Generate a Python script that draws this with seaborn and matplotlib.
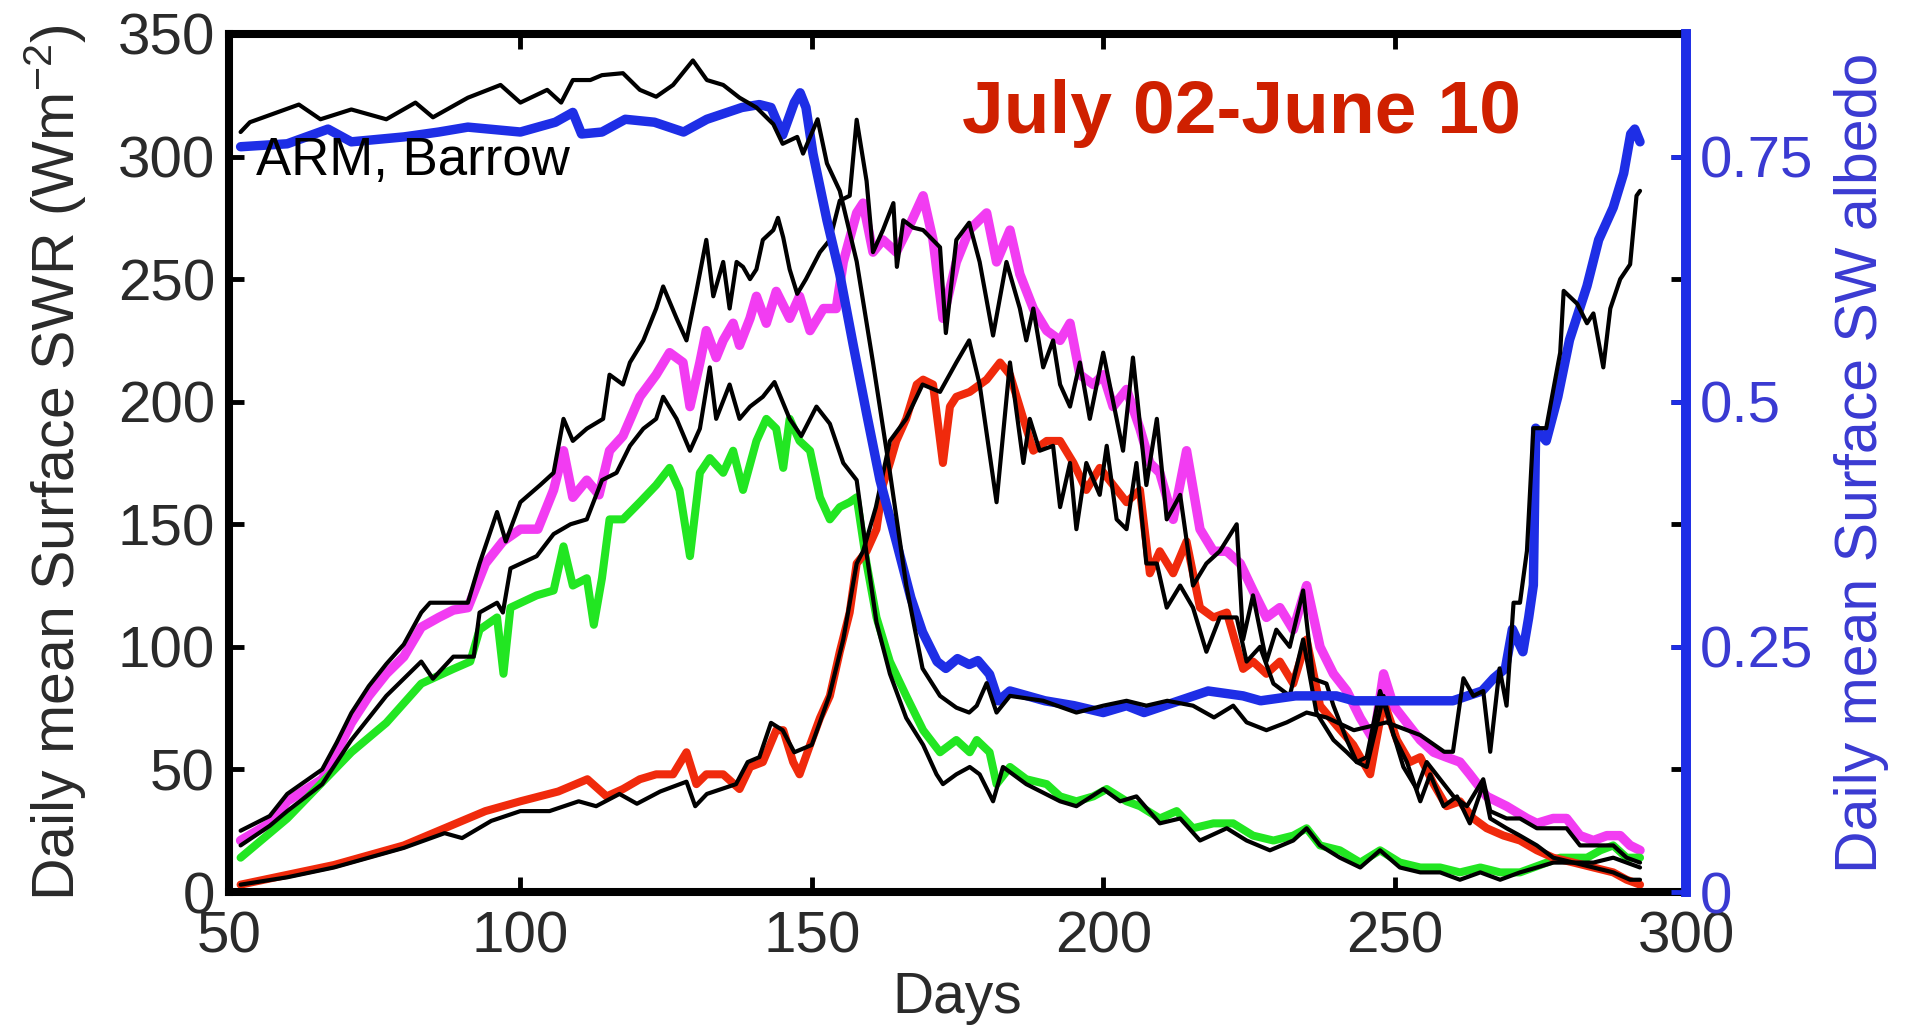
import matplotlib
matplotlib.use("Agg")
import matplotlib.pyplot as plt
import seaborn as sns

# ---------------- data ----------------
# Model downwelling SW (magenta)
DOWN_MODEL_DAY = [52, 57, 60, 66, 68.5, 71, 74, 77, 80, 83, 86, 88.5, 91, 94, 97, 100, 103, 105.7, 107.4, 109,
                  111.4, 113.5, 115.3, 117.6, 120.5, 123.3, 125.6, 127.9, 129.1, 130.8, 131.9, 133.6, 134.8, 136.5,
                  137.6, 139.4, 140.5, 142.2, 143.9, 146.2, 147.9, 149.7, 152, 154.2, 155.4, 157.7, 158.8, 160.5,
                  162.2, 164.5, 166.8, 169.1, 170.8, 172.5, 174.8, 177, 180, 181.7, 184, 185.7, 188, 190.3, 192.6,
                  194.3, 196, 198.3, 200, 201.7, 204, 206.3, 208, 209.7, 212, 214.3, 216.6, 218.9, 221.2, 223.5,
                  225.7, 228, 230.3, 232.6, 234.9, 237.2, 239.5, 241.8, 244.1, 246.4, 248.1, 249.8, 252.1, 254.4,
                  256.7, 258.9, 261.2, 262.9, 265.8, 269.2, 272.7, 274.4, 277.2, 279.5, 281.8, 284.1, 286.4, 288.7,
                  290.4, 292.1]
DOWN_MODEL = [21, 28, 37, 46, 57, 69, 80, 89, 96, 108, 112, 115, 116, 134, 143, 148, 148, 164, 180, 161,
              168, 162, 180, 186, 202, 211, 220, 216, 198, 216, 229, 218, 225, 232, 223, 234, 243, 232, 245, 234,
              243, 229, 238, 238, 257, 277, 281, 261, 266, 261, 272, 284, 266, 234, 257, 270, 277, 257, 270, 252,
              238, 229, 225, 232, 211, 207, 211, 198, 205, 189, 175, 171, 152, 180, 148, 139, 139, 134, 123, 112,
              116, 107, 125, 100, 89, 82, 71, 62, 89, 76, 69, 62, 57, 55, 53, 48, 39, 35, 30, 28,
              30, 30, 23, 21, 23, 23, 19, 17]

# Observed downwelling SW (black)
DOWN_OBS_DAY = [52, 57, 60, 66, 68.5, 71, 74, 77, 80, 83, 84.5, 88.5, 91, 93, 96, 97.5, 100, 103.4, 105.7, 107.4,
                109, 111.4, 114.2, 115.3, 117.6, 118.8, 121.1, 123.3, 124.5, 126.8, 128.5, 130.2, 131.9, 133.1,
                134.8, 135.9, 137.1, 138.2, 139.4, 140.5, 141.6, 143.4, 144.2, 145.1, 146.2, 147.5, 149, 151.4,
                153.1, 154.8, 156.5, 157.7, 159.4, 160.5, 162.2, 164, 164.6, 165.7, 167.4, 169.1, 172, 173, 174.8,
                177, 178.8, 181.1, 183.4, 185.7, 186.8, 188, 189.7, 191.4, 192.6, 194.3, 196, 197.7, 200, 202.3,
                203.4, 205.1, 207.4, 209.2, 210.9, 213.2, 215.4, 217.7, 220, 222.9, 224, 225.7, 228, 229.7, 232,
                234.3, 236, 238.3, 239.5, 241.8, 243.5, 245.2, 247.5, 249.2, 251.5, 253.8, 255.5, 257.8, 260.1,
                262.4, 265.2, 266.4, 269.2, 271.5, 274.4, 277.2, 279.5, 281.8, 284.7, 287.5, 289.8, 292.1]
DOWN_OBS = [25, 31, 40, 50, 61, 73, 84, 93, 101, 114, 118, 118, 118, 134, 155, 143, 159, 166, 171, 193,
            184, 189, 193, 211, 207, 216, 225, 238, 247, 234, 225, 245, 266, 243, 257, 238, 257, 255, 250, 254,
            266, 270, 275, 267, 254, 244, 250, 261, 266, 282, 284, 315, 290, 261, 270, 281, 255, 274, 271, 270,
            263, 228, 266, 273, 257, 227, 257, 238, 225, 238, 214, 225, 207, 198, 216, 193, 220, 193, 180, 218,
            166, 193, 152, 162, 125, 134, 139, 150, 103, 121, 94, 107, 100, 123, 87, 85, 76, 62, 53, 55,
            82, 69, 51, 42, 53, 46, 39, 35, 46, 33, 30, 30, 26, 26, 26, 19, 19, 19, 14, 12]

# Model upwelling SW (green)
UP_MODEL_DAY = [52, 60, 71, 77, 83, 88.5, 91.4, 93, 96, 97.1, 98.3, 102.8, 105.7, 107.4, 109, 111.4, 112.6, 114,
                115.3, 117.6, 120.5, 123.3, 125.6, 127.3, 129.1, 130.8, 132.5, 134.8, 136.5, 138.2, 140.5, 142.2,
                143.9, 145.1, 146.2, 147.9, 149.7, 151.4, 153.1, 154.8, 156.5, 157.7, 159.4, 161.1, 163.4, 166.2,
                169.1, 172, 174.8, 177.1, 178.3, 180.5, 181.7, 184, 186.8, 190.3, 192.6, 195.4, 198.3, 200.6, 204,
                206.3, 209.7, 212.6, 215.4, 218.9, 222.3, 225.7, 229.2, 232.6, 234.9, 237.2, 240.6, 244.1, 247.5,
                250.9, 254.4, 257.8, 261.2, 264.7, 268.1, 271.5, 273.8, 276.1, 278.4, 280.7, 283, 285.3, 287.5,
                289.8, 292.1]
UP_MODEL = [14, 30, 57, 69, 85, 91, 94, 107, 112, 89, 116, 121, 123, 141, 125, 128, 109, 128, 152, 152,
            159, 166, 173, 164, 137, 171, 177, 171, 180, 164, 184, 193, 189, 173, 193, 184, 180, 161, 152, 157,
            159, 161, 134, 112, 94, 80, 66, 57, 62, 57, 62, 57, 44, 51, 46, 44, 39, 37, 39, 42,
            37, 35, 30, 33, 26, 28, 28, 23, 21, 23, 26, 19, 17, 12, 17, 12, 10, 10, 8, 10,
            8, 8, 10, 12, 14, 14, 14, 17, 19, 14, 14]

# Observed upwelling SW (black)
UP_OBS_DAY = [52, 57, 60, 66, 71, 77, 83, 85, 88.5, 92, 93, 96, 97, 98.3, 102.8, 105.7, 108.6, 111.4, 114, 116.5,
              118.8, 121.1, 123.3, 124.5, 126.8, 129.1, 130.8, 132.5, 133.6, 135.9, 137.6, 139.4, 141.6, 143.6,
              146.2, 148.2, 150.8, 153.1, 155.4, 157.7, 159.4, 161.1, 163.4, 166.2, 169.1, 171.4, 172.5, 174.8,
              177.1, 178.8, 181.1, 182.8, 186.8, 192.6, 195.4, 200, 202.9, 205.7, 209.7, 213.2, 216.6, 221.2,
              224.6, 228.6, 232.6, 234.9, 237.2, 240.6, 244.1, 247.5, 250.9, 254.4, 257.8, 261.2, 264.7, 268.1,
              271.5, 274.4, 277.2, 280.7, 284.1, 287.5, 289.8, 292.1]
UP_OBS = [19, 27, 33, 44, 62, 80, 94, 87, 96, 96, 114, 118, 114, 132, 137, 146, 150, 152, 168, 171,
          182, 189, 193, 202, 193, 180, 189, 214, 193, 207, 193, 198, 202, 208, 193, 186, 198, 191, 175, 168,
          138, 110, 89, 71, 60, 48, 44, 48, 51, 48, 37, 51, 44, 37, 35, 42, 37, 39, 28, 30,
          21, 26, 21, 17, 21, 26, 19, 14, 10, 17, 10, 8, 8, 5, 8, 5, 8, 10, 12, 12,
          12, 14, 12, 10]

# Model net SW (red)
NET_MODEL_DAY = [52, 60, 68, 80, 87, 94, 100, 106.5, 111.5, 114.8, 117.6, 120.5, 123.3, 126.2, 128.5, 130.2,
                 131.9, 134.8, 137.6, 139.4, 141.6, 143.9, 145.1, 146.8, 147.9, 149.7, 151.4, 153.1, 154.8, 156.5,
                 157.7, 159.4, 161.1, 162.2, 163.4, 164.5, 166.2, 168, 169.1, 170.8, 172.5, 173.7, 174.8, 177.1,
                 180, 182.3, 184, 186.3, 188, 190.3, 192.6, 194.9, 197.1, 199.4, 201.7, 204, 206.3, 208, 209.7,
                 212, 214.3, 216.6, 218.9, 221.2, 224, 225.7, 228, 230.3, 232.6, 234.9, 237.2, 240, 242.9, 245.8,
                 248.1, 250.4, 252.6, 254.4, 256.7, 258.9, 261.2, 263.5, 265.8, 268.7, 271.5, 274.4, 277.2, 280.7,
                 284.1, 287.5, 289.8, 292.1]
NET_MODEL = [3, 7, 11, 19, 26, 33, 37, 41, 46, 39, 42, 46, 48, 48, 57, 44, 48, 48, 42, 51,
             53, 66, 66, 53, 48, 60, 71, 80, 98, 114, 134, 139, 148, 166, 175, 184, 193, 207, 209, 207,
             175, 198, 202, 204, 209, 216, 211, 193, 180, 184, 184, 175, 164, 173, 166, 159, 164, 130, 139, 130,
             143, 116, 112, 114, 91, 94, 89, 94, 85, 103, 76, 68, 60, 48, 78, 62, 53, 55, 44, 35,
             37, 30, 26, 23, 21, 17, 14, 12, 10, 8, 5, 3]

# Observed net SW (black)
NET_OBS_DAY = [52, 60, 68, 80, 87, 90, 95, 100, 105, 110, 113, 117, 120, 124, 128.5, 130, 132, 137, 139, 141,
               143, 145, 147, 150, 153, 155.4, 157.7, 158.8, 161, 163.4, 166.2, 169, 172, 174.8, 177, 178.8,
               181.7, 184, 186.3, 187.4, 189.1, 191.4, 192.6, 194.3, 195.4, 197.1, 199.4, 200.6, 202.3, 204,
               205.7, 207.4, 209.2, 210.9, 213.2, 215.4, 217.7, 220, 222.9, 224.6, 226.9, 229.2, 232, 234.3,
               236.6, 239.5, 241.8, 243.5, 245.2, 248.1, 249.8, 252.1, 254.4, 256.1, 258.4, 260.7, 262.9, 265.2,
               266.4, 269.2, 271.5, 274.4, 277.2, 280.7, 284.1, 287.5, 290.4, 292.1]
NET_OBS = [3, 6, 10, 18, 24, 22, 29, 33, 33, 37, 35, 40, 36, 41, 45, 35, 40, 44, 53, 55,
           69, 66, 57, 60, 80, 103, 134, 139, 157, 184, 193, 207, 204, 216, 225, 207, 159, 216, 175, 193,
           180, 182, 157, 175, 148, 175, 162, 182, 152, 148, 175, 134, 134, 116, 125, 116, 98, 112, 112, 94,
           100, 85, 80, 103, 73, 62, 57, 53, 51, 80, 64, 53, 37, 48, 35, 39, 28, 44, 30, 26,
           23, 19, 14, 12, 10, 8, 5, 5]

# Model surface albedo (blue, right axis)
ALB_MODEL_DAY = [52, 60, 67, 71, 80, 86, 91, 100, 106, 109, 110.5, 114, 118, 123, 128, 132, 138, 141, 143, 145,
                 147, 148, 149, 150.2, 152.6, 154.8, 157.1, 159.4, 161.7, 164.6, 167, 169, 171.5, 173, 175, 177,
                 178.5, 180.5, 182, 184, 190, 195, 200, 204, 207, 213, 218, 224, 227, 233, 240, 243, 249, 254,
                 260, 265, 267, 269, 270.2, 272, 273, 273.8, 274.2, 276, 278, 280, 283, 285, 287.5, 289.3, 290.5,
                 291.2, 292.1]
ALB_MODEL = [.760, .763, .778, .765, .770, .775, .780, .775, .785, .795, .773, .775, .788, .785, .775, .788,
             .800, .803, .800, .772, .805, .815, .800, .753, .685, .630, .558, .488, .420, .355, .300, .265,
             .235, .228, .238, .232, .236, .222, .195, .205, .195, .190, .183, .190, .183, .195, .205, .200,
             .195, .200, .200, .195, .195, .195, .195, .205, .218, .228, .268, .245, .280, .313, .473, .460,
             .505, .563, .618, .665, .698, .733, .773, .778, .765]

# Observed surface albedo (black, right axis)
ALB_OBS_DAY = [52, 53.6, 62, 65.7, 71, 77, 82, 85, 91, 96.6, 100, 104.6, 107, 109, 112, 114, 117.6, 120.5,
               123.3, 126.2, 129.6, 132, 134.8, 137.6, 140.5, 143.4, 145, 147.5, 148.5, 151, 152.6, 154.8, 157.7,
               160.5, 163.4, 166.2, 169, 172, 174.8, 177, 178.3, 180, 181.7, 184, 189.7, 195.4, 200, 204, 207.4,
               211, 215.4, 219, 222.3, 224.6, 228, 231.5, 234.9, 238.3, 243, 248.6, 254.4, 258.5, 260, 261.8,
               263.5, 265.2, 266.4, 268, 269.2, 270.4, 271.5, 272.7, 273.8, 276, 278.4, 279, 281.3, 283, 284.1,
               285.8, 287, 288.7, 290.4, 291.5, 292.1]
ALB_OBS = [.775, .785, .803, .788, .798, .788, .805, .790, .810, .823, .805, .818, .805, .828, .828, .833,
           .835, .818, .811, .823, .848, .828, .823, .810, .800, .783, .763, .770, .753, .788, .743, .715,
           .643, .540, .428, .313, .228, .200, .188, .183, .190, .213, .183, .200, .195, .183, .190, .195,
           .190, .195, .190, .178, .190, .173, .165, .173, .183, .178, .165, .173, .160, .143, .143, .218,
           .200, .205, .143, .228, .190, .295, .295, .348, .473, .473, .550, .613, .600, .580, .590, .535,
           .595, .625, .640, .710, .715]

X_TICKS = [50, 100, 150, 200, 250, 300]
Y_TICKS = [0, 50, 100, 150, 200, 250, 300, 350]
ALB_TICKS = [0, 0.25, 0.5, 0.75]
ALB_TICK_LABELS = ["0", "0.25", "0.5", "0.75"]

# ---------------- styling ----------------
MAGENTA = "#F23CF2"
GREEN = "#22E622"
RED = "#F02A0C"
BLUE = "#1E2EE6"
LABEL_BLUE = "#3A3AD2"
TEXT_GRAY = "#2a2a2a"
TITLE_RED = "#CF2000"

sns.set_style("ticks")
plt.rcParams["font.family"] = ["Liberation Sans", "DejaVu Sans"]
plt.rcParams["mathtext.default"] = "regular"

fig = plt.figure(figsize=(19.11, 10.26), dpi=100)
ax = fig.add_axes([0.1198, 0.1306, 0.7625, 0.8363])
ax2 = ax.twinx()


def draw(axis, x, y, color, lw, z):
    sns.lineplot(x=x, y=y, ax=axis, color=color, linewidth=lw, estimator=None,
                 sort=False, legend=False, zorder=z)


draw(ax, DOWN_MODEL_DAY, DOWN_MODEL, MAGENTA, 6.8, 2)
draw(ax, UP_MODEL_DAY, UP_MODEL, GREEN, 5.8, 2)
draw(ax, NET_MODEL_DAY, NET_MODEL, RED, 5.8, 2)
draw(ax, DOWN_OBS_DAY, DOWN_OBS, "black", 3.0, 3)
draw(ax, UP_OBS_DAY, UP_OBS, "black", 3.0, 3)
draw(ax, NET_OBS_DAY, NET_OBS, "black", 3.0, 3)

draw(ax2, ALB_MODEL_DAY, ALB_MODEL, BLUE, 6.8, 2)
draw(ax2, ALB_OBS_DAY, ALB_OBS, "black", 3.0, 3)

ax.set_xlim(50, 300)
ax.set_ylim(0, 350)
ax2.set_ylim(0, 0.875)
ax.set_xticks(X_TICKS)
ax.set_yticks(Y_TICKS)
ax2.set_yticks(ALB_TICKS)
ax2.set_yticklabels(ALB_TICK_LABELS)

ax.tick_params(axis="both", direction="in", length=11, width=3.5, top=True, right=True,
               labelsize=42, labelcolor=TEXT_GRAY, color="black")
ax.tick_params(axis="x", pad=13)
ax.tick_params(axis="y", pad=10)
ax2.tick_params(axis="y", direction="in", length=11, width=3.5, labelsize=42,
                color=BLUE, labelcolor=LABEL_BLUE, pad=10)

for s in ["left", "top", "bottom"]:
    ax.spines[s].set_linewidth(5.8)
    ax.spines[s].set_color("black")
ax.spines["right"].set_linewidth(7)
ax.spines["right"].set_color(BLUE)
for s in ["left", "top", "bottom"]:
    ax2.spines[s].set_visible(False)
ax2.spines["right"].set_linewidth(7)
ax2.spines["right"].set_color(BLUE)

ax.set_xlabel("Days", fontsize=41, color=TEXT_GRAY)
ax.xaxis.set_label_coords(0.5, -0.1235)
ax.xaxis.label.set_va("center")
ax.set_ylabel("Daily mean Surface SWR (Wm$^{-2}$)", fontsize=42.5, color=TEXT_GRAY)
ax.yaxis.set_label_coords(-0.1194, 0.5)
ax.yaxis.label.set_va("center")
ax2.set_ylabel("Daily mean Surface SW albedo", fontsize=42.5, color=LABEL_BLUE)
ax2.yaxis.set_label_coords(1.1201, 0.5)
ax2.yaxis.label.set_va("center")

ax2.text(54.6, 292.5, "ARM, Barrow", transform=ax.transData, fontsize=38, color="black",
         ha="left", va="baseline", zorder=10)
ax2.text(175.8, 309.6, "July 02-June 10", transform=ax.transData, fontsize=54, fontweight="bold",
         color=TITLE_RED, ha="left", va="baseline", zorder=10)

fig.savefig("out.png", dpi=100)
